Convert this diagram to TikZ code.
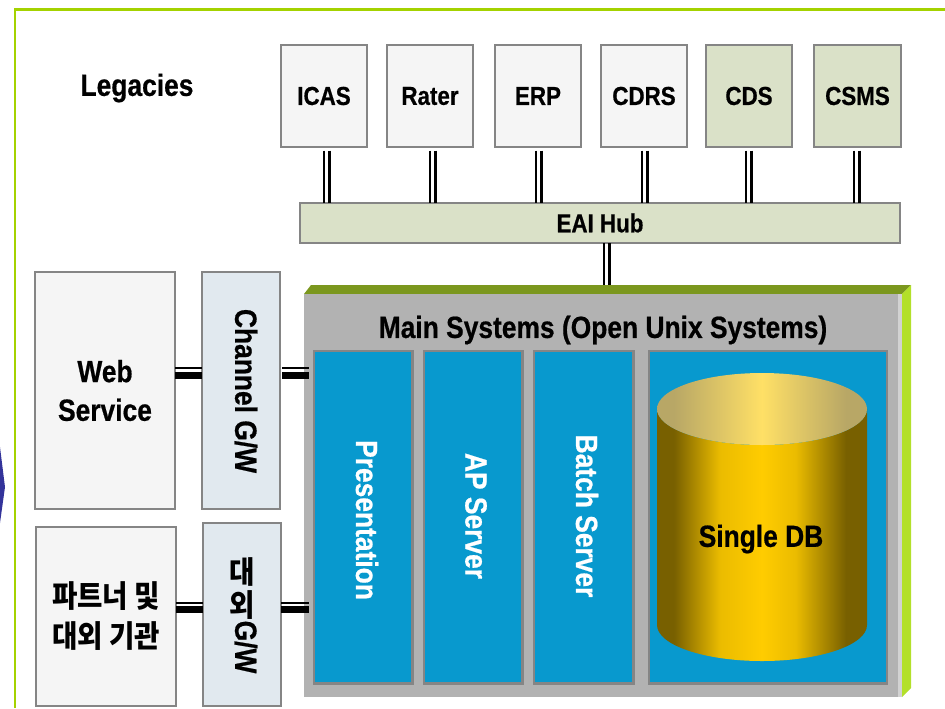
\documentclass[tikz,border=0pt]{standalone}
\usepackage{fontspec}
\setmainfont{Liberation Sans}[FakeStretch=0.86,BoldFeatures={FakeBold=0.6}]
\newfontfamily\krfont{Noto Sans CJK KR}[FakeStretch=0.9]
\usetikzlibrary{calc}
\definecolor{frameg}{HTML}{A4D200}
\definecolor{boxedge}{HTML}{858585}
\definecolor{lightbox}{HTML}{F5F5F5}
\definecolor{hubfill}{HTML}{DAE1C8}
\definecolor{gwfill}{HTML}{E1E9EF}
\definecolor{mainfill}{HTML}{B2B2B2}
\definecolor{blue1}{HTML}{0899CE}
\definecolor{olive}{HTML}{7B971E}
\definecolor{side}{HTML}{B3E02A}
\definecolor{tri}{HTML}{33339A}
\definecolor{cyA}{HTML}{786000}
\definecolor{cyB}{HTML}{FFCC00}
\definecolor{capA}{HTML}{B8A766}
\definecolor{capB}{HTML}{FFE066}
\pgfdeclarehorizontalshading{cylbody}{100bp}{color(0bp)=(cyA);color(25bp)=(cyA);color(29bp)=(cyA);color(40bp)=(cyB!85!cyA);color(50bp)=(cyB);color(58bp)=(cyB!85!cyA);color(70bp)=(cyA);color(100bp)=(cyA)}
\pgfdeclarehorizontalshading{cylcap}{100bp}{color(0bp)=(capA);color(25bp)=(capA);color(29bp)=(capA);color(50bp)=(capB);color(70bp)=(capA);color(100bp)=(capA)}
\tikzset{
  x=0.75pt,y=-0.75pt,
  pbox/.style={draw=boxedge,line width=1.7pt,inner sep=0pt,outer sep=0pt,font=\fontsize{19.5pt}{23pt}\selectfont\bfseries,align=center},
  legacy/.style={pbox,fill=lightbox},
  tier/.style={draw=boxedge,line width=1.7pt,fill=blue1,inner sep=0pt,outer sep=0pt},
  vlink/.style={draw=black,line width=1.9pt},
  hthin/.style={draw=black,line width=1.8pt},
  hthick/.style={draw=black,line width=5.4pt},
  plain/.style={font=\fontsize{23pt}{27pt}\selectfont\bfseries,inner sep=0pt}
}
\newcommand{\boxat}[6]{\node[#1,minimum width=#4*0.75pt-#2*0.75pt,minimum height=#5*0.75pt-#3*0.75pt,anchor=north west] (#6) at (#2,#3)}
\begin{document}
\begin{tikzpicture}
\useasboundingbox (0,0) rectangle (945,708);
% outer frame
\coordinate (fa) at (15,708);
\coordinate (fb) at (15,9.5);
\coordinate (fc) at (945,9.5);
\draw[frameg,line width=2.1pt] (fa) -- (fb) -- (fc);
\fill[fill=tri] (0,447) -- (5,487) -- (0,523) -- cycle;
% main 3D box
\fill[olive] (304,294) -- (311,285) -- (911,285) -- (902,294) -- cycle;
\fill[side] (902,294) -- (911,285) -- (911,688) -- (902,697) -- cycle;
\fill[mainfill] (304,294) rectangle (902,697);
\fill[gray!35] (898,294) rectangle (902,697);
\coordinate (maintop) at (607,285);
\coordinate (mainedge) at (309,373);
\node[plain] (mt) at (603,330) {Main Systems (Open Unix Systems)};
% legacy boxes
\boxat{legacy}{281}{45}{367}{147}{icas} {ICAS};
\boxat{legacy}{387}{45}{473}{147}{rater} {Rater};
\boxat{legacy}{495}{45}{581}{147}{erp} {ERP};
\boxat{legacy}{601}{45}{687}{147}{cdrs} {CDRS};
\boxat{legacy,fill=hubfill}{706}{45}{792}{147}{cds} {CDS};
\boxat{legacy,fill=hubfill}{814}{45}{901}{147}{csms} {CSMS};
\node[plain] (leg) at (137,88) {Legacies};
% hub
\boxat{pbox,fill=hubfill}{300}{203}{900}{243}{hub} {EAI Hub};
% left
\boxat{pbox,fill=lightbox,font=\fontsize{23pt}{29pt}\selectfont\bfseries}{35}{272}{175}{509}{web} {Web\\Service};
\boxat{pbox,fill=gwfill}{202}{272}{280}{509}{cgw} {};
\node[plain,rotate=-90] (cgwt) at (246,391) {Channel G/W};
\boxat{pbox,fill=lightbox,font=\fontsize{23pt}{30pt}\selectfont\bfseries\krfont}{36}{527}{176}{706}{part} {파트너 및\\대외 기관};
\boxat{pbox,fill=gwfill}{203}{523}{281}{706}{ogw} {};
\node[plain] (og1) at (242,572) {\krfont 대};
\node[plain] (og2) at (242,605) {\krfont 외};
\node[plain,rotate=-90] (og3) at (246,647) {G/W};
% tiers
\boxat{tier}{314}{351}{412.5}{683.5}{pres} {};
\boxat{tier}{424}{351}{522.5}{683.5}{ap} {};
\boxat{tier}{534}{351}{633.5}{683.5}{batch} {};
\boxat{tier}{649}{351}{887}{683.5}{dbbox} {};
\node[plain,text=white,rotate=-90] (prest) at (367,520) {Presentation};
\node[plain,text=white,rotate=-90] (apt) at (476,516) {AP Server};
\node[plain,text=white,rotate=-90] (batcht) at (587,516) {Batch Server};
% cylinder
\path[shading=cylbody] (657,409) -- (657,625) arc[start angle=180,end angle=360,x radius=105,y radius=-36] -- (867,409) arc[start angle=0,end angle=180,x radius=105,y radius=36] -- cycle;
\path[shading=cylcap] (762,409) circle[x radius=105,y radius=36];
\node[plain] (db) at (761,539) {Single DB};
% connectors legacy -- hub
\foreach \n/\o in {icas/3,rater/3,erp/1,cdrs/1,cds/0,csms/-0.5}{
  \coordinate (la) at ($(\n.south)+(\o-2.8,3.5)$);
  \coordinate (lb) at ($(\n.south)+(\o+2.6,3.5)$);
  \draw[vlink] (la) -- (la |- hub.north);
  \draw[vlink] (lb) -- (lb |- hub.north);
}
% hub -- main
\coordinate (ha) at ($(maintop)+(-2.8,0)$);
\coordinate (hb) at ($(maintop)+(2.6,0)$);
\draw[vlink] (ha |- hub.south) -- (ha);
\draw[vlink] (hb |- hub.south) -- (hb);
% horizontal double links
\coordinate (t1) at (0,368.2);
\coordinate (k1) at (0,375.2);
\coordinate (t2) at (0,602.8);
\coordinate (k2) at (0,609.6);
\draw[hthin]  (web.east |- t1) -- (cgw.west |- t1);
\draw[hthick] (web.east |- k1) -- (cgw.west |- k1);
\draw[hthin]  ($(cgw.east |- t1)+(2,0)$) -- (mainedge |- t1);
\draw[hthick] ($(cgw.east |- k1)+(2,0)$) -- (mainedge |- k1);
\draw[hthin]  (part.east |- t2) -- (ogw.west |- t2);
\draw[hthick] (part.east |- k2) -- (ogw.west |- k2);
\draw[hthin]  (ogw.east |- t2) -- (mainedge |- t2);
\draw[hthick] (ogw.east |- k2) -- (mainedge |- k2);
\end{tikzpicture}
\end{document}
